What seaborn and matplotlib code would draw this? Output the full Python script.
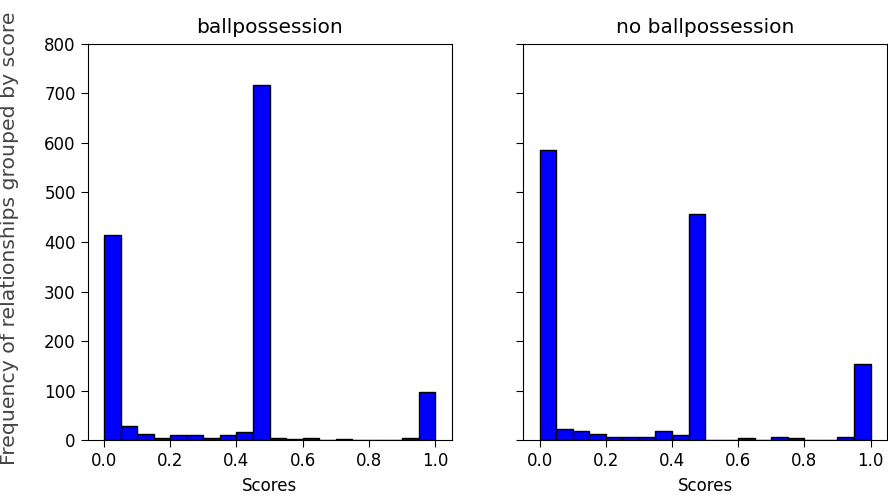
import numpy as np
import pandas as pd
import matplotlib
matplotlib.use("Agg")
import matplotlib.pyplot as plt
import seaborn as sns

# Histogram counts per score bin (20 bins of width 0.05 over [0, 1])
bin_centers = [0.025, 0.075, 0.125, 0.175, 0.225, 0.275, 0.325, 0.375, 0.425, 0.475,
               0.525, 0.575, 0.625, 0.675, 0.725, 0.775, 0.825, 0.875, 0.925, 0.975]
counts_ball = [414, 28, 13, 5, 11, 11, 5, 11, 16, 718, 5, 2, 5, 0, 2, 0, 0, 0, 5, 98]
counts_noball = [585, 23, 18, 13, 7, 7, 7, 18, 10, 456, 1, 1, 5, 1, 7, 5, 1, 1, 7, 154]
panel_titles = ["ballpossession", "no ballpossession"]
y_ticks = [0, 100, 200, 300, 400, 500, 600, 700, 800]
x_ticks = [0.0, 0.2, 0.4, 0.6, 0.8, 1.0]

plt.rcParams["font.family"] = ["DejaVu Sans"]

fig = plt.figure(figsize=(8.88, 4.99), dpi=100)
ax1 = fig.add_axes([0.0986, 0.118, 0.410, 0.794])
ax2 = fig.add_axes([0.589, 0.118, 0.410, 0.794], sharey=ax1)

for ax, counts, title in zip([ax1, ax2], [counts_ball, counts_noball], panel_titles):
    df = pd.DataFrame({"score": bin_centers, "n": counts})
    sns.histplot(data=df, x="score", weights="n", bins=20, binrange=(0, 1),
                 color="#0000ff", edgecolor="black", linewidth=1.0, alpha=1.0,
                 ax=ax)
    ax.set_title(title, fontsize=14.5, pad=8)
    ax.set_xlabel("Scores", fontsize=12, labelpad=5)
    ax.set_ylabel("")
    ax.set_xticks(x_ticks)
    ax.set_xlim(-0.05, 1.05)
    ax.tick_params(labelsize=12, length=5)

ax1.set_ylim(0, 800)
ax1.set_yticks(y_ticks)
ax2.tick_params(labelleft=False)

fig.text(0.011, 0.522, "Frequency of relationships grouped by score", rotation=90,
         ha="center", va="center", fontsize=14.7, color="#444444")

fig.savefig("out.png", dpi=100)
